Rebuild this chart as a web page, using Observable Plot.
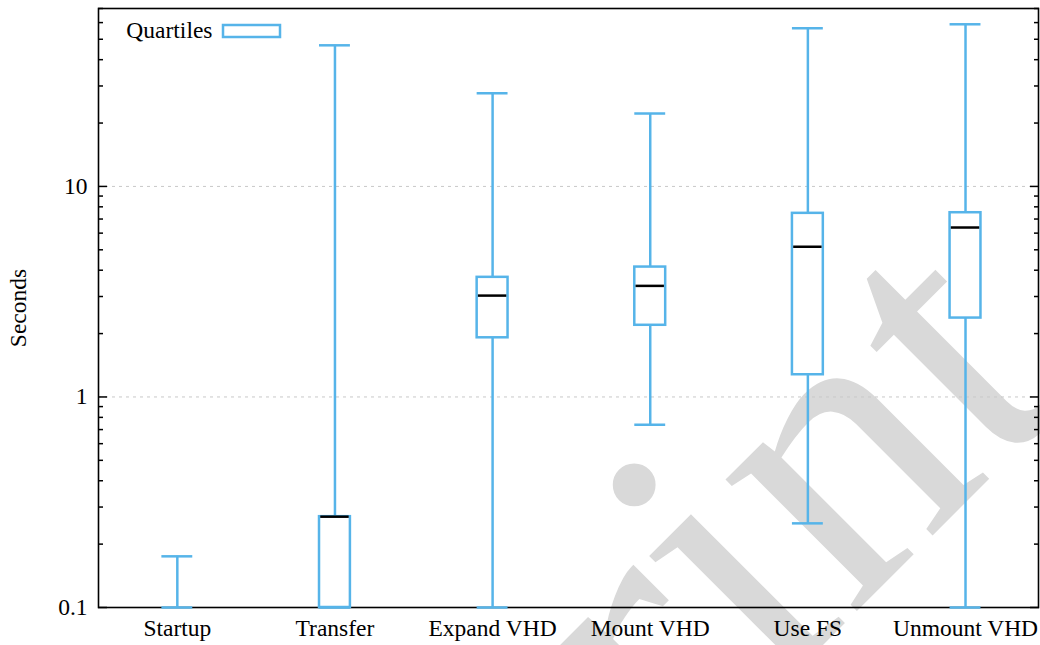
<!DOCTYPE html>
<html>
<head>
<meta charset="utf-8">
<script src="https://cdn.jsdelivr.net/npm/d3@7"></script>
<script src="https://cdn.jsdelivr.net/npm/@observablehq/plot@0.6"></script>
<style>
  html, body { margin: 0; padding: 0; background: white; }
  #chart { width: 1040px; height: 645px; }
</style>
</head>
<body>
<div id="chart"></div>
<script>
// ---- data ----
const categories = ["Startup", "Transfer", "Expand VHD", "Mount VHD", "Use FS", "Unmount VHD"];
const mins    = [0.1,   0.1,  0.1,  0.738, 0.251, 0.1];
const q1s     = [null,  0.1,  1.91, 2.19,  1.275, 2.37];
const medians = [null,  0.27, 3.03, 3.37,  5.17,  6.38];
const q3s     = [null,  0.27, 3.70, 4.14,  7.45,  7.50];
const maxs    = [0.175, 46.8, 27.7, 22.2,  56.4,  58.9];
const majorTicks = [0.1, 1, 10];
const minorTicks = [0.2,0.3,0.4,0.5,0.6,0.7,0.8,0.9, 2,3,4,5,6,7,8,9, 20,30,40,50,60,70];
const legendLabel = "Quartiles";
const yLabel = "Seconds";
const watermark = "Preprint";

// ---- build ----
const blue = "#56B4E9";
const font = "Liberation Serif";
const fs = 23.5;
const rows = categories.map((c, i) => ({i, c, min: mins[i], q1: q1s[i], med: medians[i], q3: q3s[i], max: maxs[i]}));
const boxes = rows.filter(d => d.q1 != null);
const segs = rows.flatMap(d => d.q1 != null
  ? [{i: d.i, a: d.min, b: d.q1}, {i: d.i, a: d.q3, b: d.max}]
  : [{i: d.i, a: d.min, b: d.max}]);
const hw = 0.098;

const plot = Plot.plot({
  width: 1040,
  height: 645,
  marginLeft: 98,
  marginRight: 2,
  marginTop: 8,
  marginBottom: 38,
  style: {fontFamily: font, fontSize: fs + "px", color: "black", background: "transparent"},
  x: {type: "linear", domain: [-0.5, 5.463]},
  y: {type: "log", domain: [0.1, 70]},
  marks: [
    Plot.text([watermark], {text: d => d, frameAnchor: "top-left", dx: 52, dy: 1309, rotate: -45,
      fontSize: 405, fill: "#d9d9d9", textAnchor: "start", lineAnchor: "bottom", fontFamily: font}),
    Plot.ruleY([1, 10], {stroke: "#c8c8c8", strokeWidth: 1, strokeDasharray: "3,4"}),
    Plot.frame({stroke: "black", strokeWidth: 1.6}),
    Plot.axisY({anchor: "left", ticks: majorTicks, tickSize: -9, fill: "none", label: null, strokeWidth: 1.5}),
    Plot.axisY({anchor: "left", ticks: minorTicks, tickSize: -5, fill: "none", label: null, strokeWidth: 1.5}),
    Plot.axisY({anchor: "right", ticks: majorTicks, tickSize: -9, fill: "none", label: null, strokeWidth: 1.5}),
    Plot.axisY({anchor: "right", ticks: minorTicks, tickSize: -5, fill: "none", label: null, strokeWidth: 1.5}),
    Plot.axisY({anchor: "left", ticks: majorTicks, tickSize: 0, tickPadding: 11, tickFormat: d => String(d), label: null, fontSize: fs}),
    Plot.axisX({anchor: "bottom", ticks: d3.range(categories.length), tickSize: 0, tickPadding: 12, tickFormat: i => categories[i], label: null, fontSize: fs}),
    Plot.text([yLabel], {text: d => d, frameAnchor: "left", dx: -80, rotate: -90, textAnchor: "middle", fontSize: fs}),
    Plot.ruleX(segs, {x: "i", y1: "a", y2: "b", stroke: blue, strokeWidth: 2.5}),
    Plot.ruleY(rows, {y: "min", x1: d => d.i - hw, x2: d => d.i + hw, stroke: blue, strokeWidth: 2.5}),
    Plot.ruleY(rows, {y: "max", x1: d => d.i - hw, x2: d => d.i + hw, stroke: blue, strokeWidth: 2.5}),
    Plot.rectY(boxes, {x1: d => d.i - hw, x2: d => d.i + hw, y1: "q1", y2: "q3", fill: "none", stroke: blue, strokeWidth: 2.5}),
    Plot.ruleY(boxes, {y: "med", x1: d => d.i - hw + 0.008, x2: d => d.i + hw - 0.008, stroke: "black", strokeWidth: 2.5}),
    Plot.text([legendLabel], {text: d => d, frameAnchor: "top-left", dx: 114, dy: 13, textAnchor: "end", fontSize: fs})
  ]
});

// legend swatch
d3.select(plot).append("rect")
  .attr("x", 223).attr("y", 25).attr("width", 57).attr("height", 12)
  .attr("fill", "none").attr("stroke", blue).attr("stroke-width", 2.5);

document.getElementById("chart").appendChild(plot);
</script>
</body>
</html>
